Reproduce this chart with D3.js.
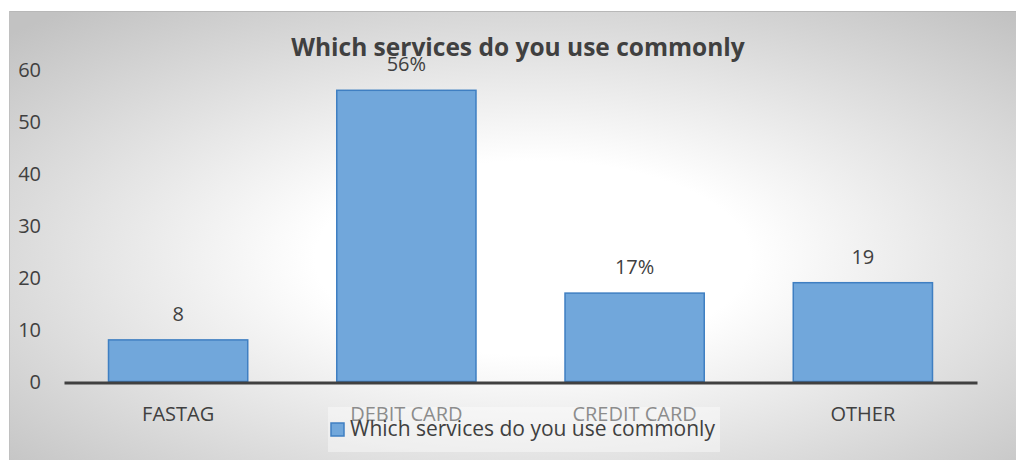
<!DOCTYPE html>
<html>
<head>
<meta charset="utf-8">
<script src="https://cdn.jsdelivr.net/npm/d3@7"></script>
<style>
  html, body { margin: 0; padding: 0; background: #ffffff; }
  svg { display: block; }
  text { font-family: "Open Sans", "DejaVu Sans", sans-serif; }
</style>
</head>
<body>
<svg id="chart" width="1016" height="461"></svg>
<script>
// Survey results
const categories = ["FASTAG", "DEBIT CARD", "CREDIT CARD", "OTHER"];
const values = [8, 56, 17, 19];
const valueLabels = ["8", "56%", "17%", "19"];
const yTicks = [0, 10, 20, 30, 40, 50, 60];
const title = "Which services do you use commonly";
const seriesName = "Which services do you use commonly";

const svg = d3.select("#chart");
const W = 1016, H = 461;

// Chart area background: radial fade from white centre to grey edges
const defs = svg.append("defs");
const grad = defs.append("radialGradient")
  .attr("id", "bg").attr("cx", "52%").attr("cy", "55%").attr("r", "72%");
grad.append("stop").attr("offset", "0%").attr("stop-color", "#ffffff");
grad.append("stop").attr("offset", "30%").attr("stop-color", "#ffffff");
grad.append("stop").attr("offset", "100%").attr("stop-color", "#c2c2c2");

svg.append("rect")
  .attr("x", 9).attr("y", 11).attr("width", W - 9).attr("height", 449)
  .attr("fill", "url(#bg)");
svg.append("line")
  .attr("x1", 9).attr("x2", W).attr("y1", 11.5).attr("y2", 11.5)
  .attr("stroke", "#b8b8b8").attr("stroke-width", 1);
svg.append("line")
  .attr("x1", 9.5).attr("x2", 9.5).attr("y1", 11).attr("y2", 460)
  .attr("stroke", "#c0c0c0").attr("stroke-width", 1);

const plot = { left: 64, right: 977, top: 69.5, bottom: 381.5 };

const x = d3.scaleBand()
  .domain(categories)
  .range([plot.left, plot.right])
  .paddingInner(0.39)
  .paddingOuter(0.195);

const y = d3.scaleLinear()
  .domain([0, 60])
  .range([plot.bottom, plot.top]);

// Y tick labels (no axis line, no gridlines)
const yAxis = d3.axisLeft(y).tickValues(yTicks).tickSize(0).tickPadding(0);
const yg = svg.append("g").attr("transform", "translate(41,0)").call(yAxis);
yg.select(".domain").remove();
yg.selectAll("text")
  .attr("font-size", 20).attr("fill", "#404040")
  .attr("font-family", "'Open Sans', sans-serif")
  .attr("dy", "0.34em");

// Bars
svg.append("g").selectAll("rect")
  .data(categories)
  .join("rect")
  .attr("x", d => x(d))
  .attr("y", (d, i) => y(values[i]))
  .attr("width", x.bandwidth())
  .attr("height", (d, i) => y(0) - y(values[i]))
  .attr("fill", "#71a7db")
  .attr("stroke", "#3f7fc2")
  .attr("stroke-width", 1.5);

// Value labels above bars
svg.append("g").selectAll("text")
  .data(categories)
  .join("text")
  .attr("x", d => x(d) + x.bandwidth() / 2)
  .attr("y", (d, i) => y(values[i]) - 19)
  .attr("text-anchor", "middle")
  .attr("font-size", 20)
  .attr("fill", "#404040")
  .text((d, i) => valueLabels[i]);

// X axis baseline
const xAxis = d3.axisBottom(x).tickSize(0).tickPadding(0);
const xg = svg.append("g").attr("transform", `translate(0,${y(0) + 1})`).call(xAxis);
xg.select(".domain").attr("stroke", "#404040").attr("stroke-width", 3);
xg.selectAll("text")
  .attr("font-size", 20).attr("fill", "#404040")
  .attr("font-family", "'Open Sans', sans-serif")
  .attr("dy", 0).attr("y", 38);

// Title
svg.append("text")
  .attr("x", 518).attr("y", 56)
  .attr("text-anchor", "middle")
  .attr("font-size", 24.5).attr("font-weight", "bold")
  .attr("fill", "#404040")
  .text(title);

// Legend with translucent backing
const lg = svg.append("g");
lg.append("rect")
  .attr("x", 328).attr("y", 407).attr("width", 392).attr("height", 45)
  .attr("fill", "#ffffff").attr("fill-opacity", 0.4);
lg.append("rect")
  .attr("x", 331).attr("y", 423).attr("width", 13).attr("height", 13)
  .attr("fill", "#71a7db").attr("stroke", "#3f7fc2").attr("stroke-width", 1.5);
lg.append("text")
  .attr("x", 350).attr("y", 436)
  .attr("font-size", 21).attr("fill", "#404040")
  .text(seriesName);
</script>
</body>
</html>
